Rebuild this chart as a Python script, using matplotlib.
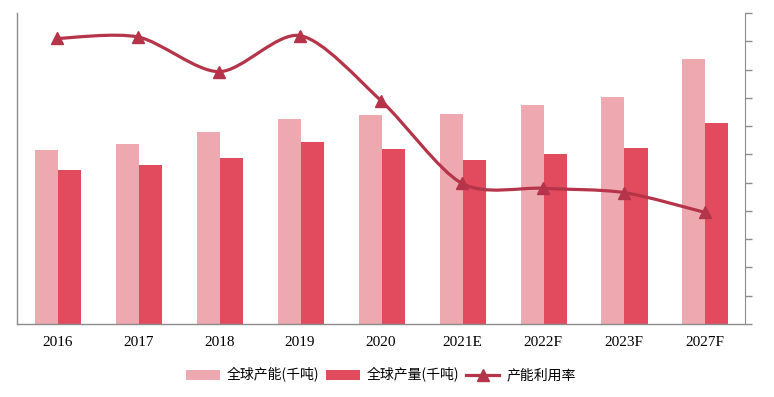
import matplotlib
matplotlib.use("Agg")
import matplotlib.pyplot as plt
import numpy as np
from matplotlib.path import Path
from matplotlib.patches import PathPatch
from matplotlib.lines import Line2D

plt.rcParams['font.family'] = ['Noto Sans CJK SC', 'DejaVu Sans']

categories = ["2016", "2017", "2018", "2019", "2020", "2021E", "2022F", "2023F", "2027F"]
capacity = [1958, 2026, 2161, 2307, 2352, 2363, 2465, 2555, 2982]      # 全球产能(千吨)
production = [1733, 1789, 1868, 2048, 1970, 1846, 1913, 1981, 2262]   # 全球产量(千吨)
utilization = [0.882, 0.883, 0.8585, 0.884, 0.838, 0.7795, 0.776, 0.773, 0.759]  # 产能利用率

c_light = "#EEA8B0"
c_dark = "#E24A5E"
c_line = "#B5344A"
c_spine = "#8C8C8C"

fig = plt.figure(figsize=(7.74, 3.97), dpi=100)
ax = fig.add_axes([17/774, (397-324)/397, 728/774, 311/397])
x = np.arange(len(categories))
w = 0.285
ax.bar(x - w/2 + 0.01, capacity, width=w, color=c_light, label="全球产能(千吨)", zorder=2)
ax.bar(x + w/2 + 0.01, production, width=w, color=c_dark, label="全球产量(千吨)", zorder=2)
ax.set_xlim(-0.5, len(categories) - 0.5)
ax.set_ylim(0, 3500)
ax.set_xticks(x)
ax.set_xticklabels(categories, fontfamily="Liberation Serif", fontsize=11)
ax.tick_params(axis='x', length=0, pad=9)
ax.set_yticks([])
for s in ["top", "right"]:
    ax.spines[s].set_visible(False)
for s in ["left", "bottom"]:
    ax.spines[s].set_color(c_spine)
    ax.spines[s].set_linewidth(1.0)

ax2 = ax.twinx()
ax2.set_ylim(0.68, 0.90)
ax2.set_yticks(np.linspace(0.68, 0.90, 12))
ax2.set_yticklabels([])
ax2.tick_params(axis='y', direction='out', length=5, color=c_spine, width=1.0)
for s in ["top", "left", "bottom"]:
    ax2.spines[s].set_visible(False)
ax2.spines["right"].set_color(c_spine)

# smooth line (Catmull-Rom style -> cubic Bezier)
pts = np.column_stack([x, utilization]).astype(float)
verts = [tuple(pts[0])]
codes = [Path.MOVETO]
n = len(pts)
k = 1.0 / 7.0
for i in range(n - 1):
    p0 = pts[i - 1] if i > 0 else pts[i]
    p1 = pts[i]
    p2 = pts[i + 1]
    p3 = pts[i + 2] if i + 2 < n else pts[i + 1]
    c1 = p1 + (p2 - p0) * k
    c2 = p2 - (p3 - p1) * k
    verts += [tuple(c1), tuple(c2), tuple(p2)]
    codes += [Path.CURVE4] * 3
ax2.add_patch(PathPatch(Path(verts, codes), facecolor='none', edgecolor=c_line, lw=2.3, zorder=3,
                        capstyle='round', joinstyle='round'))
ax2.plot(x, utilization, ls='none', marker='^', ms=9, color=c_line, zorder=4)

h1, l1 = ax.get_legend_handles_labels()
h3 = Line2D([], [], color=c_line, lw=2.3, marker='^', ms=9)
fig.legend(h1 + [h3], l1 + ["产能利用率"], loc='center', bbox_to_anchor=(381/774, (397-375)/397),
           ncol=3, frameon=False, fontsize=10, handlelength=2.4, handletextpad=0.5,
           columnspacing=0.5, numpoints=1)

fig.savefig("out.png", dpi=100)
